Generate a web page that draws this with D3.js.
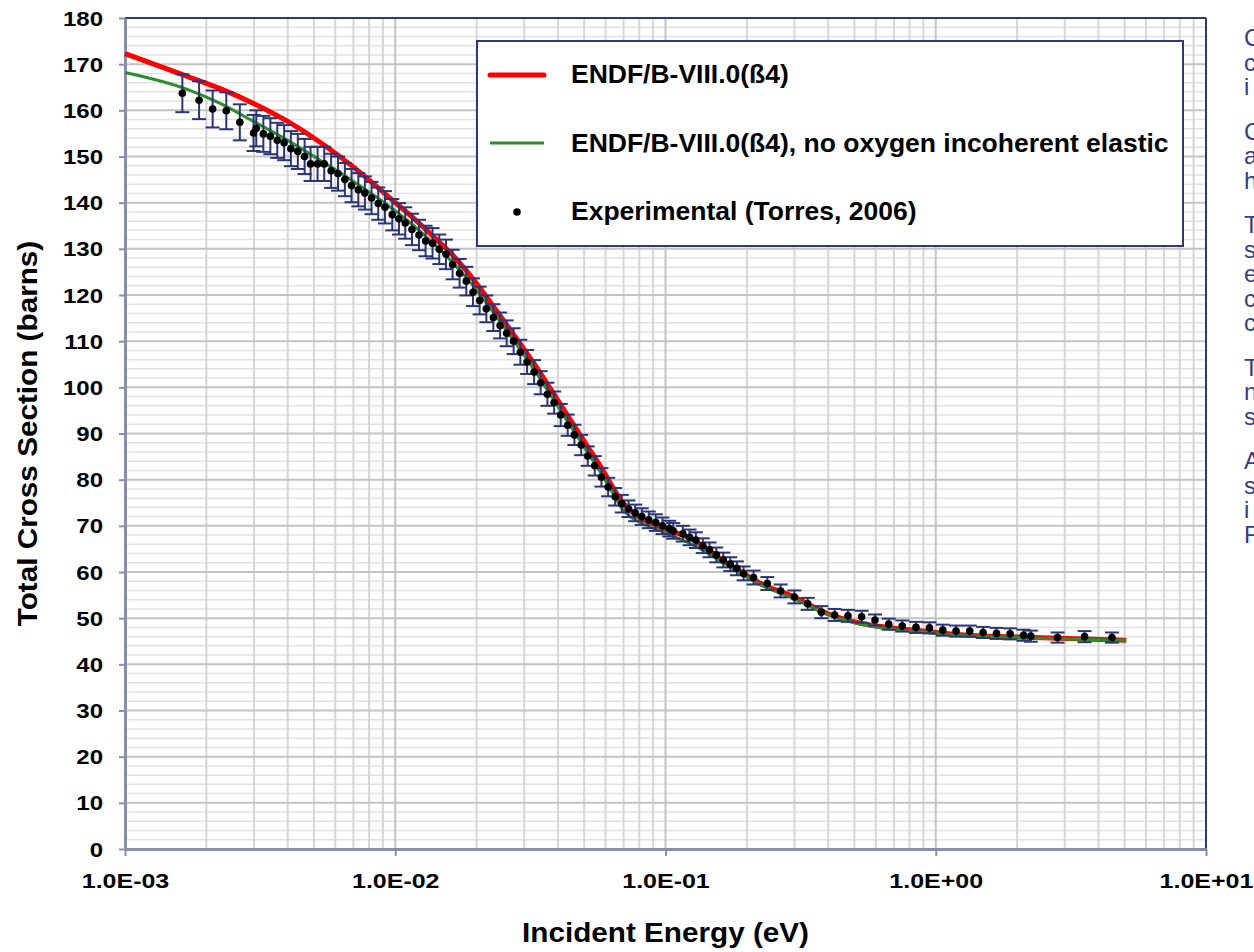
<!DOCTYPE html>
<html>
<head>
<meta charset="utf-8">
<script src="https://cdn.jsdelivr.net/npm/d3@7"></script>
<style>
  body { margin: 0; background: #fff; }
  svg { display: block; font-family: Arial, "Liberation Sans", sans-serif; }
</style>
</head>
<body>
<div id="chart"></div>
<script>
// experimental points (Torres, 2006)
var expEnergy = [1.63e-3, 1.88e-3, 2.11e-3, 2.37e-3, 2.66e-3, 2.99e-3, 3.06e-3, 3.25e-3, 3.45e-3, 3.66e-3,
  3.88e-3, 4.11e-3, 4.36e-3, 4.62e-3, 4.86e-3, 5.16e-3, 5.46e-3, 5.79e-3, 6.14e-3, 6.51e-3,
  6.89e-3, 7.30e-3, 7.72e-3, 8.17e-3, 8.65e-3, 9.16e-3, 9.75e-3, 1.032e-2, 1.089e-2, 1.153e-2,
  1.224e-2, 1.295e-2, 1.374e-2, 1.455e-2, 1.541e-2, 1.630e-2, 1.730e-2, 1.832e-2, 1.940e-2, 2.052e-2,
  2.173e-2, 2.307e-2, 2.443e-2, 2.584e-2, 2.742e-2, 2.904e-2, 3.075e-2, 3.264e-2, 3.452e-2, 3.656e-2,
  3.871e-2, 4.095e-2, 4.346e-2, 4.603e-2, 4.874e-2, 5.155e-2, 5.472e-2, 5.794e-2, 6.135e-2, 6.513e-2,
  6.889e-2, 7.295e-2, 7.723e-2, 8.169e-2, 8.671e-2, 9.207e-2, 9.747e-2, 0.1032, 0.1068, 0.1159,
  0.1227, 0.1295, 0.1374, 0.1455, 0.1541, 0.1636, 0.1736, 0.1837, 0.1945, 0.2118,
  0.2381, 0.2667, 0.2998, 0.3357, 0.3774, 0.4226, 0.4734, 0.5318, 0.5960, 0.6697,
  0.7515, 0.8449, 0.9478, 1.062, 1.189, 1.336, 1.497, 1.678, 1.884, 2.113,
  2.248, 2.823, 3.554, 4.487];
var expSigma = [163.7, 162.2, 160.3, 159.9, 157.4, 155.1, 156.1, 154.9, 154.4, 153.5,
  153.0, 151.7, 151.1, 150.0, 148.4, 148.4, 148.4, 146.9, 146.3, 145.0,
  143.7, 142.8, 142.1, 141.0, 139.8, 139.0, 137.4, 136.5, 135.6, 134.2,
  133.0, 131.7, 131.2, 129.9, 128.8, 126.6, 124.7, 123.0, 120.6, 118.8,
  117.0, 115.1, 113.4, 111.7, 110.0, 107.6, 105.5, 103.3, 101.0, 98.5,
  96.7, 94.0, 91.8, 89.7, 87.5, 85.1, 83.0, 80.5, 78.4, 76.3,
  74.8, 73.7, 72.8, 72.0, 71.3, 70.7, 70.0, 69.4, 68.9, 68.3,
  67.5, 66.9, 65.7, 64.8, 63.7, 62.6, 61.7, 60.8, 59.7, 58.8,
  57.5, 55.9, 54.6, 53.1, 51.3, 50.7, 50.5, 50.3, 49.6, 48.7,
  48.3, 48.0, 47.9, 47.4, 47.2, 47.2, 46.9, 46.7, 46.6, 46.3,
  46.1, 45.8, 46.0, 45.8];
var expError = [4.1, 4.1, 4.0, 4.0, 3.9, 3.9, 3.9, 3.9, 3.9, 3.8,
  3.8, 3.8, 3.8, 3.8, 3.7, 3.7, 3.7, 3.7, 3.7, 3.6,
  3.6, 3.6, 3.6, 3.5, 3.5, 3.5, 3.4, 3.4, 3.4, 3.4,
  3.3, 3.3, 3.3, 3.2, 3.2, 3.2, 3.1, 3.1, 3.0, 3.0,
  2.9, 2.9, 2.8, 2.8, 2.8, 2.7, 2.6, 2.6, 2.5, 2.5,
  2.4, 2.4, 2.3, 2.2, 2.2, 2.1, 2.1, 2.0, 2.0, 1.9,
  1.9, 1.8, 1.8, 1.8, 1.8, 1.8, 1.8, 1.7, 1.7, 1.7,
  1.7, 1.7, 1.6, 1.6, 1.6, 1.6, 1.5, 1.5, 1.5, 1.5,
  1.4, 1.4, 1.4, 1.3, 1.3, 1.3, 1.3, 1.3, 1.2, 1.2,
  1.2, 1.2, 1.2, 1.2, 1.2, 1.2, 1.2, 1.2, 1.2, 1.2,
  1.2, 1.1, 1.2, 1.1];

// ENDF/B-VIII.0 (ß4)
var redEnergy = [1e-3, 1.69e-3, 2.25e-3, 2.99e-3, 3.97e-3, 5.27e-3, 7.01e-3, 9.31e-3, 1.238e-2, 1.387e-2,
  1.645e-2, 1.842e-2, 2.45e-2, 3.25e-2, 4.35e-2, 5.16e-2, 5.8e-2, 6.5e-2, 6.9e-2, 7.4e-2,
  7.85e-2, 9.58e-2, 0.127, 0.169, 0.225, 0.299, 0.397, 0.527, 0.701, 0.931,
  1.238, 2.006, 5.07];
var redSigma = [172.3, 167.4, 164.7, 161.5, 157.7, 153.1, 147.7, 141.6, 135.3, 132.6,
  128.4, 125.1, 115.4, 105.3, 93.8, 87.1, 82.5, 77.6, 75.2, 73.4,
  72.2, 69.8, 66.9, 61.9, 57.5, 54.6, 51.0, 48.9, 47.8, 47.1,
  46.4, 45.9, 45.2];

// ENDF/B-VIII.0 (ß4), no oxygen incoherent elastic
var greenEnergy = [1e-3, 1.69e-3, 2.25e-3, 2.99e-3, 3.97e-3, 5.27e-3, 7.01e-3, 9.31e-3, 1.238e-2, 1.645e-2,
  1.842e-2, 2.45e-2, 3.25e-2, 4.35e-2, 5.16e-2, 5.8e-2, 6.5e-2, 6.9e-2, 7.4e-2, 8.07e-2,
  9.58e-2, 0.127, 0.169, 0.225, 0.299, 0.397, 0.527, 0.701, 0.931, 1.238,
  2.006, 5.07];
var greenSigma = [168.2, 164.6, 161.5, 157.6, 153.6, 149.2, 144.6, 139.6, 133.8, 126.8,
  123.6, 114.1, 104.0, 92.5, 85.8, 81.2, 76.3, 73.8, 72.0, 70.7,
  68.9, 65.8, 61.5, 57.2, 54.2, 50.8, 48.7, 47.6, 46.9, 46.3,
  45.8, 45.2];

var xTickValues = [1e-3, 1e-2, 1e-1, 1, 10];
var xTickLabels = ["1.0E-03", "1.0E-02", "1.0E-01", "1.0E+00", "1.0E+01"];
var yTickValues = [0, 10, 20, 30, 40, 50, 60, 70, 80, 90, 100, 110, 120, 130, 140, 150, 160, 170, 180];

var legendNames = ["ENDF/B-VIII.0(ß4)", "ENDF/B-VIII.0(ß4), no oxygen incoherent elastic", "Experimental (Torres, 2006)"];

// first letters of the side notes, clipped by the page edge
var sideParagraphs = [["C", "c", "i"], ["C", "a", "h"], ["T", "s", "e", "c", "c"], ["T", "n", "s"], ["A", "s", "i", "F"]];

// set the dimensions and margins of the graph
var margin = {top: 18, right: 48, bottom: 103, left: 125},
    width = 1254 - margin.left - margin.right,
    height = 952 - margin.top - margin.bottom;

var navy = "#2f3878", axisGrey = "#8a8ea8", barColor = "#2b3576";

var root = d3.select("#chart")
  .append("svg")
    .attr("width", 1254)
    .attr("height", 952);

root.append("rect").attr("width", 1254).attr("height", 952).attr("fill", "#fff");

var svg = root.append("g")
    .attr("transform", "translate(" + margin.left + "," + margin.top + ")");

var x = d3.scaleLog().domain([1e-3, 10]).range([0, width]);
var y = d3.scaleLinear().domain([0, 180]).range([height, 0]);

// grid: minor first, then major
svg.append("g").selectAll("line")
  .data(y.ticks(90).filter(function(d) { return d % 10 !== 0; }))
  .enter().append("line")
    .attr("x1", 0).attr("x2", width)
    .attr("y1", function(d) { return y(d); })
    .attr("y2", function(d) { return y(d); })
    .attr("stroke", "#e2e2e2").attr("stroke-width", 1.5);

svg.append("g").selectAll("line")
  .data(x.ticks().filter(function(d) { return xTickValues.indexOf(d) < 0; }))
  .enter().append("line")
    .attr("x1", function(d) { return x(d); })
    .attr("x2", function(d) { return x(d); })
    .attr("y1", 0).attr("y2", height)
    .attr("stroke", "#d6d6d6").attr("stroke-width", 2);

svg.append("g").selectAll("line")
  .data(yTickValues)
  .enter().append("line")
    .attr("x1", 0).attr("x2", width)
    .attr("y1", function(d) { return y(d); })
    .attr("y2", function(d) { return y(d); })
    .attr("stroke", "#c3c3c3").attr("stroke-width", 2);

svg.append("g").selectAll("line")
  .data(xTickValues)
  .enter().append("line")
    .attr("x1", function(d) { return x(d); })
    .attr("x2", function(d) { return x(d); })
    .attr("y1", 0).attr("y2", height)
    .attr("stroke", "#c3c3c3").attr("stroke-width", 2);

// top and right frame
svg.append("line").attr("x1", 0).attr("x2", width).attr("y1", 0).attr("y2", 0)
  .attr("stroke", navy).attr("stroke-width", 2);
svg.append("line").attr("x1", width).attr("x2", width).attr("y1", 0).attr("y2", height)
  .attr("stroke", navy).attr("stroke-width", 2);

// Y axis
var yAxis = svg.append("g")
  .call(d3.axisLeft(y).tickValues(yTickValues).tickSize(6).tickSizeOuter(0));
yAxis.select(".domain").attr("stroke", axisGrey).attr("stroke-width", 3);
yAxis.selectAll(".tick line").attr("stroke", axisGrey).attr("stroke-width", 2);
yAxis.selectAll(".tick text")
  .attr("x", null).attr("dy", null)
  .attr("transform", "translate(-22,7) scale(1.2,1)")
  .attr("fill", "#000")
  .style("font-size", "20px").style("font-weight", "bold")
  .style("font-family", "Arial, 'Liberation Sans', sans-serif");

// X axis
var xAxis = svg.append("g")
  .attr("transform", "translate(0," + height + ")")
  .call(d3.axisBottom(x).tickValues(xTickValues)
    .tickFormat(function(d, i) { return xTickLabels[i]; })
    .tickSize(7).tickSizeOuter(0));
xAxis.select(".domain").attr("stroke", axisGrey).attr("stroke-width", 3);
xAxis.selectAll(".tick line").attr("stroke", axisGrey).attr("stroke-width", 2);
xAxis.selectAll(".tick text")
  .attr("y", null).attr("dy", null)
  .attr("transform", "translate(0,39) scale(1.25,1)")
  .attr("fill", "#000")
  .style("font-size", "20px").style("font-weight", "bold")
  .style("font-family", "Arial, 'Liberation Sans', sans-serif");

// axis titles
root.append("text")
  .attr("transform", "translate(" + (margin.left + width / 2) + ",942) scale(1.06,1)")
  .attr("text-anchor", "middle")
  .style("font-size", "28px").style("font-weight", "bold")
  .text("Incident Energy (eV)");
root.append("text")
  .attr("transform", "translate(37," + (margin.top + height / 2) + ") rotate(-90) scale(1.1,1)")
  .attr("text-anchor", "middle")
  .style("font-size", "27px").style("font-weight", "bold")
  .text("Total Cross Section (barns)");

// model curves
var line = d3.line()
  .x(function(d) { return x(d[0]); })
  .y(function(d) { return y(d[1]); })
  .curve(d3.curveMonotoneX);

svg.append("path")
  .datum(d3.zip(redEnergy, redSigma))
  .attr("fill", "none").attr("stroke", "#ff0000").attr("stroke-width", 5)
  .attr("stroke-linejoin", "round")
  .attr("d", line);

svg.append("path")
  .datum(d3.zip(greenEnergy, greenSigma))
  .attr("fill", "none").attr("stroke", "#2e8b2e").attr("stroke-width", 3)
  .attr("stroke-linejoin", "round")
  .attr("d", line);

// experimental data with error bars
var expData = expEnergy.map(function(e, i) { return {e: e, s: expSigma[i], err: expError[i]}; });

var bars = svg.append("g").attr("stroke", barColor).attr("stroke-width", 2);
bars.selectAll("line.v")
  .data(expData).enter().append("line").attr("class", "v")
    .attr("x1", function(d) { return x(d.e); })
    .attr("x2", function(d) { return x(d.e); })
    .attr("y1", function(d) { return y(d.s + d.err); })
    .attr("y2", function(d) { return y(d.s - d.err); });
bars.selectAll("line.top")
  .data(expData).enter().append("line").attr("class", "top")
    .attr("x1", function(d) { return x(d.e) - 7; })
    .attr("x2", function(d) { return x(d.e) + 7; })
    .attr("y1", function(d) { return y(d.s + d.err); })
    .attr("y2", function(d) { return y(d.s + d.err); });
bars.selectAll("line.bot")
  .data(expData).enter().append("line").attr("class", "bot")
    .attr("x1", function(d) { return x(d.e) - 7; })
    .attr("x2", function(d) { return x(d.e) + 7; })
    .attr("y1", function(d) { return y(d.s - d.err); })
    .attr("y2", function(d) { return y(d.s - d.err); });

svg.append("g").selectAll("circle")
  .data(expData).enter().append("circle")
    .attr("cx", function(d) { return x(d.e); })
    .attr("cy", function(d) { return y(d.s); })
    .attr("r", 3.8)
    .attr("fill", "#000");

// legend
var legend = root.append("g").attr("transform", "translate(477,41)");
legend.append("rect")
  .attr("width", 706).attr("height", 205)
  .attr("fill", "#fff").attr("stroke", navy).attr("stroke-width", 2);
legend.append("line").attr("x1", 13).attr("x2", 67).attr("y1", 34).attr("y2", 34)
  .attr("stroke", "#ff0000").attr("stroke-width", 5).attr("stroke-linecap", "round");
legend.append("line").attr("x1", 13).attr("x2", 67).attr("y1", 102).attr("y2", 102)
  .attr("stroke", "#2e8b2e").attr("stroke-width", 3);
legend.append("circle").attr("cx", 40).attr("cy", 171).attr("r", 3.8).attr("fill", "#000");
legend.selectAll("text.item")
  .data(legendNames).enter().append("text").attr("class", "item")
    .attr("transform", function(d, i) { return "translate(94," + (42 + i * 68.5) + ") scale(1.06,1)"; })
    .style("font-size", "25px").style("font-weight", "bold")
    .text(function(d) { return d; });

// side notes, cut off at the right edge as in the original
var side = root.append("g").attr("fill", "#333d84").style("font-size", "24px");
var baseline = 46;
sideParagraphs.forEach(function(p) {
  p.forEach(function(letter) {
    side.append("text").attr("x", 1244).attr("y", baseline).text(letter);
    baseline += 24.5;
  });
  baseline += 20;
});
</script>
</body>
</html>
